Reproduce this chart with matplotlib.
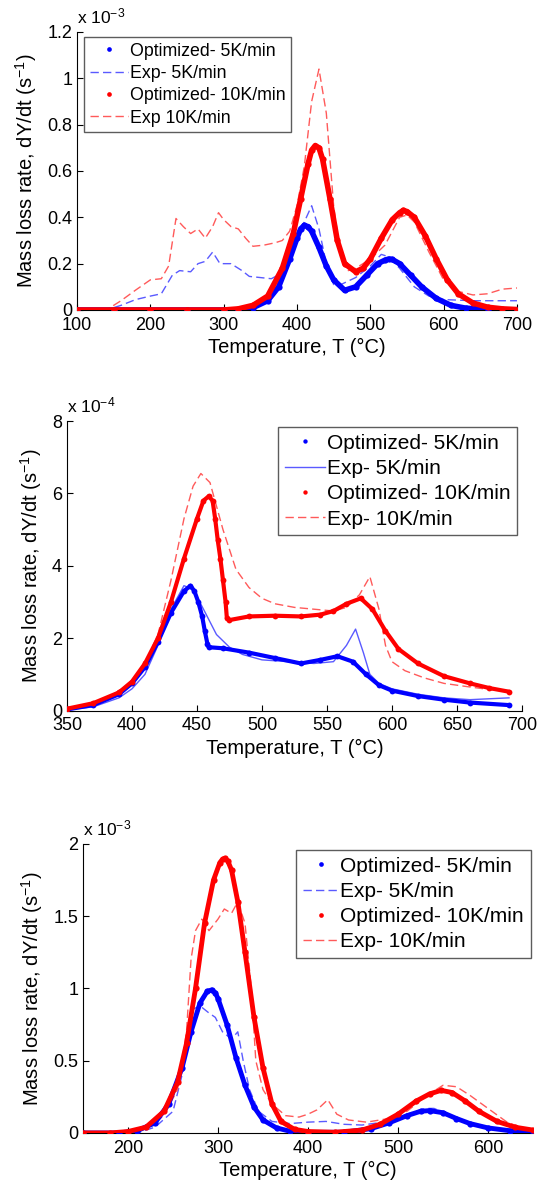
import matplotlib
matplotlib.use("Agg")
import matplotlib.pyplot as plt
from matplotlib.ticker import FuncFormatter

plt.rcParams['font.family'] = ['Liberation Sans', 'DejaVu Sans']
plt.rcParams['mathtext.fontset'] = 'custom'
plt.rcParams['mathtext.rm'] = 'Liberation Sans'
plt.rcParams['mathtext.it'] = 'Liberation Sans:italic'

# ---------- panel 1 (x 1e-3) ----------
p1_exp10_T = [100, 140, 160, 180, 200, 215, 225, 235, 245, 255, 265, 275, 285, 293, 300, 310, 320, 330, 340,
              355, 370, 380, 390, 400, 410, 420, 430, 440, 450, 460, 470, 480, 500, 520, 540, 550, 560, 580,
              600, 620, 640, 660, 680, 700]
p1_exp10 = [0, 0, 0.04, 0.086, 0.13, 0.135, 0.19, 0.395, 0.36, 0.33, 0.35, 0.31, 0.36, 0.42, 0.39, 0.36, 0.35,
            0.31, 0.275, 0.28, 0.29, 0.30, 0.34, 0.45, 0.62, 0.90, 1.04, 0.85, 0.45, 0.22, 0.17, 0.18, 0.22,
            0.28, 0.40, 0.41, 0.38, 0.25, 0.13, 0.08, 0.065, 0.07, 0.09, 0.095]
p1_exp5_T = [100, 140, 160, 180, 200, 215, 230, 240, 255, 265, 275, 285, 295, 310, 325, 335, 350, 365, 380,
             390, 400, 410, 420, 430, 440, 450, 460, 480, 500, 515, 525, 540, 560, 580, 600, 640, 700]
p1_exp5 = [0, 0, 0.02, 0.045, 0.06, 0.07, 0.15, 0.17, 0.165, 0.20, 0.21, 0.25, 0.20, 0.20, 0.17, 0.145, 0.14,
           0.135, 0.16, 0.22, 0.32, 0.38, 0.45, 0.35, 0.20, 0.11, 0.11, 0.14, 0.19, 0.24, 0.23, 0.18, 0.10,
           0.06, 0.045, 0.04, 0.04]
p1_opt10_T = [100, 150, 200, 250, 300, 320, 340, 360, 380, 395, 405, 415, 420, 425, 430, 435, 445, 455, 465,
              480, 490, 500, 515, 530, 540, 545, 550, 560, 575, 590, 605, 620, 640, 660, 680, 700]
p1_opt10 = [0, 0, 0, 0, 0, 0.005, 0.02, 0.06, 0.18, 0.33, 0.48, 0.63, 0.69, 0.71, 0.70, 0.65, 0.48, 0.30, 0.20,
            0.165, 0.18, 0.22, 0.31, 0.39, 0.42, 0.43, 0.425, 0.40, 0.32, 0.22, 0.13, 0.07, 0.03, 0.012, 0.005,
            0.002]
p1_opt5_T = [100, 150, 200, 250, 300, 320, 340, 360, 375, 390, 400, 405, 410, 415, 420, 430, 440, 450, 465,
             480, 495, 510, 520, 525, 530, 540, 555, 570, 590, 610, 630, 660, 700]
p1_opt5 = [0, 0, 0, 0, 0, 0, 0.01, 0.04, 0.10, 0.22, 0.31, 0.35, 0.365, 0.36, 0.34, 0.27, 0.19, 0.13, 0.085,
           0.10, 0.15, 0.20, 0.215, 0.22, 0.218, 0.20, 0.15, 0.10, 0.05, 0.02, 0.008, 0.002, 0]

# ---------- panel 2 (x 1e-4) ----------
p2_exp10_T = [350, 380, 400, 410, 420, 430, 440, 447, 453, 460, 470, 480, 490, 500, 510, 525, 540, 555, 565,
              575, 583, 590, 595, 600, 610, 625, 640, 660, 675, 690]
p2_exp10 = [0.05, 0.3, 0.8, 1.3, 2.1, 3.6, 5.3, 6.2, 6.55, 6.3, 5.0, 3.9, 3.4, 3.1, 2.95, 2.85, 2.8, 2.75, 2.85,
            3.2, 3.7, 2.8, 1.8, 1.35, 1.1, 0.9, 0.75, 0.65, 0.58, 0.55]
p2_exp5_T = [350, 370, 390, 400, 410, 420, 430, 440, 447, 455, 465, 475, 485, 500, 520, 540, 555, 565, 572,
             578, 583, 590, 600, 620, 640, 660, 690]
p2_exp5 = [0.02, 0.1, 0.35, 0.6, 1.0, 1.8, 2.8, 3.45, 3.35, 2.8, 2.1, 1.75, 1.55, 1.4, 1.35, 1.3, 1.35, 1.8,
           2.25, 1.6, 1.0, 0.75, 0.6, 0.45, 0.35, 0.3, 0.35]
p2_opt10_T = [350, 370, 390, 400, 410, 420, 430, 440, 450, 455, 459, 462, 464, 466, 468, 470, 472, 473, 475,
              490, 510, 530, 545, 555, 565, 576, 585, 595, 605, 620, 640, 660, 675, 690]
p2_opt10 = [0.05, 0.2, 0.5, 0.8, 1.3, 2.0, 3.0, 4.2, 5.3, 5.8, 5.92, 5.8, 5.3, 4.7, 4.2, 3.6, 3.0, 2.55, 2.5,
            2.6, 2.62, 2.6, 2.65, 2.75, 2.95, 3.1, 2.8, 2.2, 1.7, 1.3, 0.95, 0.75, 0.62, 0.52]
p2_opt5_T = [350, 370, 390, 400, 410, 420, 430, 440, 445, 448, 451, 454, 456, 458, 459, 470, 490, 510, 530,
             545, 558, 570, 580, 590, 600, 620, 640, 660, 690]
p2_opt5 = [0.03, 0.15, 0.45, 0.75, 1.2, 1.9, 2.7, 3.3, 3.45, 3.3, 3.0, 2.6, 2.2, 1.85, 1.75, 1.72, 1.6, 1.45,
           1.3, 1.4, 1.5, 1.35, 1.0, 0.7, 0.55, 0.4, 0.3, 0.22, 0.15]

# ---------- panel 3 (x 1e-3) ----------
p3_exp10_T = [150, 200, 220, 240, 255, 265, 270, 275, 282, 290, 300, 307, 315, 322, 330, 337, 342, 350, 360,
              375, 390, 400, 410, 422, 432, 445, 465, 490, 510, 530, 550, 565, 580, 600, 620, 635, 650]
p3_exp10 = [0, 0, 0.03, 0.12, 0.3, 0.7, 1.2, 1.4, 1.48, 1.40, 1.48, 1.55, 1.52, 1.6, 1.45, 1.0, 0.5, 0.3, 0.2,
            0.12, 0.11, 0.13, 0.16, 0.23, 0.13, 0.09, 0.075, 0.10, 0.15, 0.25, 0.33, 0.32, 0.26, 0.17, 0.08,
            0.04, 0.02]
p3_exp5_T = [150, 210, 230, 250, 262, 270, 280, 290, 297, 305, 315, 322, 328, 335, 345, 360, 380, 400, 420,
             440, 460, 490, 510, 530, 540, 560, 580, 600, 630, 650]
p3_exp5 = [0, 0, 0.04, 0.15, 0.45, 0.85, 0.88, 0.83, 0.8, 0.7, 0.65, 0.7, 0.5, 0.3, 0.15, 0.08, 0.065, 0.075,
           0.08, 0.06, 0.055, 0.08, 0.13, 0.17, 0.17, 0.12, 0.07, 0.04, 0.02, 0.01]
p3_opt10_T = [150, 180, 200, 220, 240, 255, 265, 275, 285, 295, 302, 305, 308, 311, 315, 322, 330, 340, 350,
              360, 370, 385, 400, 430, 460, 480, 500, 520, 535, 548, 560, 575, 590, 610, 630, 650]
p3_opt10 = [0, 0, 0.01, 0.04, 0.15, 0.35, 0.62, 1.0, 1.45, 1.75, 1.87, 1.895, 1.9, 1.88, 1.82, 1.6, 1.25, 0.8,
            0.45, 0.2, 0.08, 0.025, 0.01, 0.005, 0.02, 0.06, 0.13, 0.22, 0.27, 0.295, 0.28, 0.22, 0.15, 0.08,
            0.04, 0.02]
p3_opt5_T = [150, 190, 210, 230, 245, 260, 270, 280, 288, 293, 297, 300, 310, 320, 330, 340, 350, 365, 380,
             400, 440, 470, 490, 510, 525, 535, 550, 565, 580, 600, 625, 650]
p3_opt5 = [0, 0, 0.015, 0.07, 0.2, 0.45, 0.7, 0.9, 0.98, 0.99, 0.97, 0.93, 0.75, 0.52, 0.33, 0.18, 0.09, 0.035,
           0.012, 0.004, 0.005, 0.03, 0.07, 0.12, 0.15, 0.155, 0.14, 0.1, 0.065, 0.035, 0.015, 0.005]

BLUE = '#0000ff'
RED = '#ff0000'
LBLUE = '#5a5aff'
LRED = '#ff5a5a'

fig = plt.figure(figsize=(5.38, 11.85), dpi=100)
ax1 = fig.add_axes([0.1431, 0.7384, 0.8178, 0.2346])
ax2 = fig.add_axes([0.1245, 0.4004, 0.8457, 0.2443])
ax3 = fig.add_axes([0.1543, 0.0439, 0.8364, 0.2439])


def opt(ax, T, y, c, lab, lw, ms):
    ax.plot(T, y, '-', color=c, lw=lw, zorder=3, solid_capstyle='round')
    ax.plot(T, y, 'o', color=c, ms=ms, mew=0, label=lab, zorder=3)


def style(ax, xlim, ylim, xt, yt, expo):
    ax.set_xlim(xlim)
    ax.set_ylim(ylim)
    ax.set_xticks(xt)
    ax.set_yticks(yt)
    ax.yaxis.set_major_formatter(FuncFormatter(lambda v, p: '%g' % v))
    ax.spines['top'].set_visible(False)
    ax.spines['right'].set_visible(False)
    ax.tick_params(direction='in', length=4, labelsize=13, colors='black')
    ax.tick_params(axis='x', pad=5)
    ax.set_xlabel('Temperature, T (°C)', fontsize=14.5, labelpad=3)
    ax.set_ylabel('Mass loss rate, dY/dt (s$^{-1}$)', fontsize=14.5, labelpad=6)
    ax.text(0, 1.02, 'x 10$^{%d}$' % expo, transform=ax.transAxes, ha='left', va='bottom', fontsize=12.5)


def leg(ax, loc, anchor, fs, hl):
    L = ax.legend(loc=loc, bbox_to_anchor=anchor, fontsize=fs, frameon=True, fancybox=False,
                  edgecolor='#333333', handlelength=hl, handletextpad=0.1, labelspacing=0.3,
                  borderpad=0.32, borderaxespad=0, markerscale=0.75)
    L.get_frame().set_linewidth(1.0)


# panel 1
opt(ax1, p1_opt5_T, p1_opt5, BLUE, 'Optimized- 5K/min', 4, 4.5)
ax1.plot(p1_exp5_T, p1_exp5, '--', color=LBLUE, lw=1, dashes=(6, 3), label='Exp- 5K/min')
opt(ax1, p1_opt10_T, p1_opt10, RED, 'Optimized- 10K/min', 4, 4.5)
ax1.plot(p1_exp10_T, p1_exp10, '--', color=LRED, lw=1, dashes=(6, 3), label='Exp 10K/min')
style(ax1, (100, 700), (0, 1.2), range(100, 701, 100), [0, 0.2, 0.4, 0.6, 0.8, 1, 1.2], -3)
leg(ax1, 'upper left', (0.016, 0.982), 12.8, 2.15)

# panel 2
opt(ax2, p2_opt5_T, p2_opt5, BLUE, 'Optimized- 5K/min', 3, 4.2)
ax2.plot(p2_exp5_T, p2_exp5, '-', color=LBLUE, lw=1, label='Exp- 5K/min')
opt(ax2, p2_opt10_T, p2_opt10, RED, 'Optimized- 10K/min', 3, 4.2)
ax2.plot(p2_exp10_T, p2_exp10, '--', color=LRED, lw=1, dashes=(6, 3), label='Exp- 10K/min')
style(ax2, (350, 700), (0, 8), range(350, 701, 50), [0, 2, 4, 6, 8], -4)
leg(ax2, 'upper right', (0.989, 0.979), 15, 1.9)

# panel 3
opt(ax3, p3_opt5_T, p3_opt5, BLUE, 'Optimized- 5K/min', 3.5, 4.5)
ax3.plot(p3_exp5_T, p3_exp5, '--', color=LBLUE, lw=1, dashes=(6, 3), label='Exp- 5K/min')
opt(ax3, p3_opt10_T, p3_opt10, RED, 'Optimized- 10K/min', 3.5, 4.5)
ax3.plot(p3_exp10_T, p3_exp10, '--', color=LRED, lw=1, dashes=(6, 3), label='Exp- 10K/min')
style(ax3, (150, 650), (0, 2), range(200, 601, 100), [0, 0.5, 1, 1.5, 2], -3)
leg(ax3, 'upper right', (0.995, 0.979), 15, 1.7)

fig.savefig('out.png', dpi=100)
